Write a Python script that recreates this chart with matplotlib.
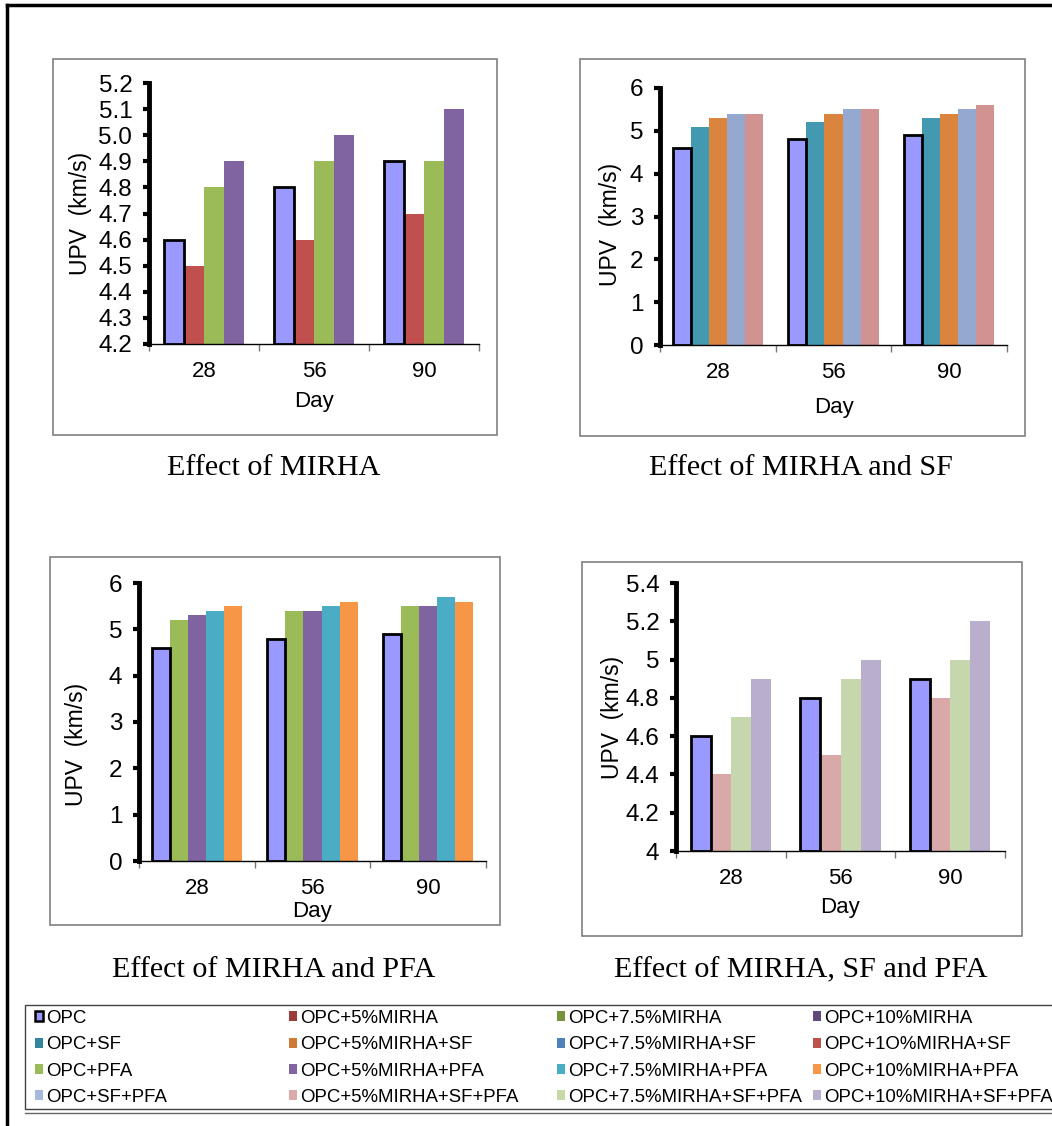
import matplotlib
matplotlib.use("Agg")
import matplotlib.pyplot as plt
from matplotlib.patches import Rectangle, Patch
from matplotlib.lines import Line2D
import numpy as np

plt.rcParams['font.family'] = ['Liberation Sans', 'DejaVu Sans']

# UPV results (km/s) at each curing age
days = ['28', '56', '90']
opc = [4.6, 4.8, 4.9]
mirha_5 = [4.5, 4.6, 4.7]
mirha_75 = [4.8, 4.9, 4.9]
mirha_10 = [4.9, 5.0, 5.1]
sf = [5.1, 5.2, 5.3]
mirha_5_sf = [5.3, 5.4, 5.4]
mirha_75_sf = [5.4, 5.5, 5.5]
mirha_10_sf = [5.4, 5.5, 5.6]
pfa = [5.2, 5.4, 5.5]
mirha_5_pfa = [5.3, 5.4, 5.5]
mirha_75_pfa = [5.4, 5.5, 5.7]
mirha_10_pfa = [5.5, 5.6, 5.6]
mirha_5_sf_pfa = [4.4, 4.5, 4.8]
mirha_75_sf_pfa = [4.7, 4.9, 5.0]
mirha_10_sf_pfa = [4.9, 5.0, 5.2]

legend_labels = ['OPC', 'OPC+5%MIRHA', 'OPC+7.5%MIRHA', 'OPC+10%MIRHA',
                 'OPC+SF', 'OPC+5%MIRHA+SF', 'OPC+7.5%MIRHA+SF', 'OPC+1O%MIRHA+SF',
                 'OPC+PFA', 'OPC+5%MIRHA+PFA', 'OPC+7.5%MIRHA+PFA', 'OPC+10%MIRHA+PFA',
                 'OPC+SF+PFA', 'OPC+5%MIRHA+SF+PFA', 'OPC+7.5%MIRHA+SF+PFA', 'OPC+10%MIRHA+SF+PFA']
legend_colors = ['#9999FF', '#9C3C3A', '#77933C', '#604A7B',
                 '#31859C', '#CC7A35', '#4F81BD', '#C0504D',
                 '#9BBB59', '#8064A2', '#4BACC6', '#F79646',
                 '#A7B9DA', '#DDAAAA', '#C6D9A6', '#B9AECB']

W, H = 1052, 1126
fig = plt.figure(figsize=(W / 100, H / 100), dpi=100)


def px_rect(x0, y0, x1, y1):
    return [x0 / W, 1 - y1 / H, (x1 - x0) / W, (y1 - y0) / H]


def box(x0, y0, x1, y1, color='#808080', lw=1.2):
    fig.patches.append(Rectangle((x0 / W, 1 - y1 / H), (x1 - x0) / W, (y1 - y0) / H,
                                 transform=fig.transFigure, fill=False,
                                 edgecolor=color, linewidth=lw))


def panel(rect, series, colors, group_w, ylim, yticks, fmt, ylab_xy, xlab_y):
    ax = fig.add_axes(rect)
    n = len(series)
    w = group_w / n
    x = np.arange(len(days))
    for i, (vals, c) in enumerate(zip(series, colors)):
        pos = x - group_w / 2 + w * (i + 0.5)
        base = ylim[0]
        if i == 0:
            ax.bar(pos, np.array(vals) - base, w, bottom=base, color=c,
                   edgecolor='black', linewidth=2, zorder=3)
        else:
            ax.bar(pos, np.array(vals) - base, w, bottom=base, color=c,
                   linewidth=0, zorder=2)
    ax.set_xlim(-0.5, 2.5)
    ax.set_ylim(*ylim)
    ax.set_yticks(yticks)
    ax.set_yticklabels([fmt(v) for v in yticks])
    ax.set_xticks(x)
    ax.set_xticklabels(days)
    ax.set_xticks([-0.5, 0.5, 1.5, 2.5], minor=True)
    for s in ['top', 'right']:
        ax.spines[s].set_visible(False)
    ax.spines['left'].set_linewidth(3.5)
    ax.spines['bottom'].set_linewidth(1)
    ax.tick_params(axis='y', direction='out', length=4, width=3, pad=8,
                   labelsize=17.5)
    ax.tick_params(axis='x', which='major', length=0, pad=12, labelsize=16)
    ax.tick_params(axis='x', which='minor', length=5, width=1, color='#777777')
    ax.set_ylabel('UPV  (km/s)', fontsize=16.5, va='center', ha='center')
    ax.yaxis.set_label_coords(*ylab_xy)
    ax.set_xlabel('Day', fontsize=16, va='center')
    ax.xaxis.set_label_coords(0.5, xlab_y)
    ax.patch.set_alpha(0)
    return ax


# outer page border
fig.add_artist(Line2D([7 / W, 1], [1 - 5 / H, 1 - 5 / H], color='black', lw=2.5,
                      transform=fig.transFigure))
fig.add_artist(Line2D([7 / W, 7 / W], [0, 1 - 5 / H], color='black', lw=2.5,
                      transform=fig.transFigure))

# chart boxes
box(53, 59, 497, 435)
box(580, 59, 1025, 436)
box(50, 557, 500, 925)
box(582, 562, 1022, 936)

gen = lambda v: f'{v:g}'

panel(px_rect(149, 83, 479, 344),
      [opc, mirha_5, mirha_75, mirha_10],
      ['#9999FF', '#C0504D', '#9BBB59', '#8064A2'],
      0.735, (4.2, 5.2), np.round(np.arange(4.2, 5.21, 0.1), 1),
      lambda v: f'{v:.1f}', (-69 / 330, 0.5), -57 / 261)

panel(px_rect(660, 88, 1007, 345),
      [opc, sf, mirha_5_sf, mirha_75_sf, mirha_10_sf],
      ['#9999FF', '#4299B0', '#DB843D', '#95A9D0', '#D19392'],
      0.78, (0, 6), np.arange(0, 7), gen, (-50 / 347, 0.47), -62 / 257)

panel(px_rect(139, 583, 486, 861),
      [opc, pfa, mirha_5_pfa, mirha_75_pfa, mirha_10_pfa],
      ['#9999FF', '#9BBB59', '#8064A2', '#4BACC6', '#F79646'],
      0.78, (0, 6), np.arange(0, 7), gen, (-62 / 347, 0.42), -51 / 278)

panel(px_rect(676, 583, 1005, 851),
      [opc, mirha_5_sf_pfa, mirha_75_sf_pfa, mirha_10_sf_pfa],
      ['#9999FF', '#D9A8A8', '#C6D7AE', '#B9AECB'],
      0.735, (4.0, 5.4), np.round(np.arange(4.0, 5.41, 0.2), 1), gen,
      (-63 / 329, 0.5), -57 / 268)

# captions
serif = ['Liberation Serif', 'DejaVu Serif']
for txt, cx, cy in [('Effect of MIRHA', 274, 468), ('Effect of MIRHA and SF', 801, 468),
                    ('Effect of MIRHA and PFA', 274, 970),
                    ('Effect of MIRHA, SF and PFA', 801, 970)]:
    fig.text(cx / W, 1 - cy / H, txt, family=serif, fontsize=21.7,
             ha='center', va='center')

# shared legend, one column per MIRHA level
box(25, 1005, 1060, 1109, color='#444444', lw=1)
fig.add_artist(Line2D([25 / W, 1], [1 - 1113 / H, 1 - 1113 / H], color='#666666',
                      lw=1, transform=fig.transFigure))
col_x = [35, 289, 557, 813]
for c in range(4):
    handles = []
    labels = []
    for r in range(4):
        k = r * 4 + c
        if k == 0:
            handles.append(Patch(facecolor=legend_colors[k], edgecolor='black', linewidth=1.8))
        else:
            handles.append(Patch(facecolor=legend_colors[k], edgecolor='none'))
        labels.append(legend_labels[k])
    fig.legend(handles, labels, loc='upper left',
               bbox_to_anchor=(col_x[c] / W, 1 - 1010 / H),
               frameon=False, borderpad=0, borderaxespad=0,
               handlelength=0.45, handleheight=0.45, handletextpad=0.15,
               labelspacing=0.5, fontsize=13.4)

fig.savefig('out.png', dpi=100, facecolor='white')
